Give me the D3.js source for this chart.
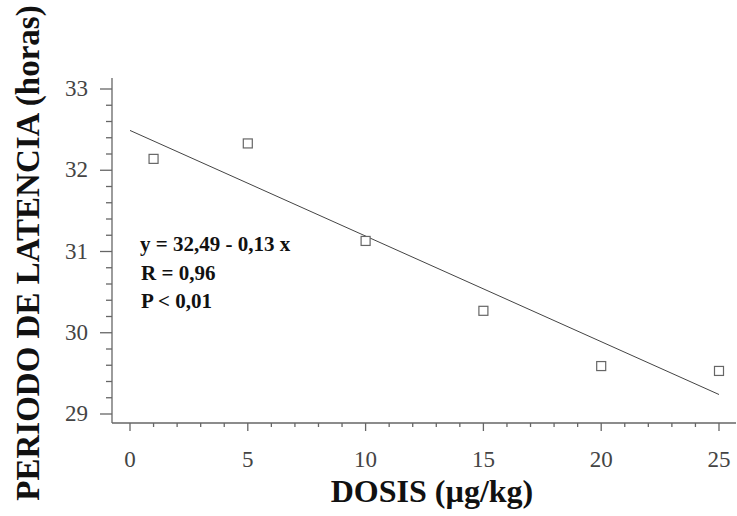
<!DOCTYPE html>
<html>
<head>
<meta charset="utf-8">
<script src="https://cdn.jsdelivr.net/npm/d3@7"></script>
<style>
body { margin: 0; background: #fff; }
svg text { font-family: "Liberation Serif", "Times New Roman", serif; }
</style>
</head>
<body>
<div id="chart"></div>
<script>
var width = 737, height = 516

// data
var dosis = [1, 5, 10, 15, 20, 25]
var latencia = [32.14, 32.33, 31.13, 30.27, 29.59, 29.53]
var intercept = 32.49, slope = -0.13
var xTicks = [0, 5, 10, 15, 20, 25]
var yTicks = [29, 30, 31, 32, 33]
var statLines = ['y = 32,49 - 0,13 x', 'R = 0,96', 'P < 0,01']

var x = d3.scaleLinear().domain([0, 25]).range([130, 719])
var y = d3.scaleLinear().domain([29, 33]).range([414, 89])

var svg = d3.select('#chart').append('svg')
	.attr('width', width).attr('height', height)

var axisColor = '#666'

// y axis
var gy = svg.append('g').attr('transform', 'translate(112,0)')
gy.append('line').attr('x1', 0).attr('x2', 0).attr('y1', 78).attr('y2', 423)
	.style('stroke', axisColor).style('stroke-width', 1.3)
d3.range(29, 33.01, 0.2).forEach(function (v) {
	var major = Math.abs(v - Math.round(v)) < 1e-6
	gy.append('line').attr('x1', major ? -12 : -6).attr('x2', 0)
		.attr('y1', y(v)).attr('y2', y(v))
		.style('stroke', axisColor).style('stroke-width', 1.3)
})
yTicks.forEach(function (v) {
	gy.append('text').text(v).attr('x', -24).attr('y', y(v) + 7)
		.attr('text-anchor', 'end').style('font-size', '23px').style('fill', '#444')
})

// x axis
var gx = svg.append('g').attr('transform', 'translate(0,423)')
gx.append('line').attr('x1', 112).attr('x2', 736).attr('y1', 0).attr('y2', 0)
	.style('stroke', axisColor).style('stroke-width', 1.3)
d3.range(0, 26).forEach(function (v) {
	var major = v % 5 === 0
	gx.append('line').attr('x1', x(v)).attr('x2', x(v)).attr('y1', 0).attr('y2', major ? 8 : 4)
		.style('stroke', axisColor).style('stroke-width', 1.3)
})
xTicks.forEach(function (v) {
	gx.append('text').text(v).attr('x', x(v)).attr('y', 44)
		.attr('text-anchor', 'middle').style('font-size', '23px').style('fill', '#444')
})

// regression line
svg.append('line')
	.attr('x1', x(0)).attr('y1', y(intercept))
	.attr('x2', x(25)).attr('y2', y(intercept + slope * 25))
	.style('stroke', '#444').style('stroke-width', 1)

// points
svg.append('g').selectAll('rect').data(dosis).join('rect')
	.attr('x', function (d) { return x(d) - 4.5 })
	.attr('y', function (d, i) { return y(latencia[i]) - 4.5 })
	.attr('width', 9).attr('height', 9)
	.style('fill', '#fff').style('stroke', '#666').style('stroke-width', 1.2)

// stats text
statLines.forEach(function (t, i) {
	svg.append('text').text(t).attr('x', i === 0 ? 140 : 141).attr('y', 251 + i * 28.5)
		.style('font-size', '21px').style('font-weight', 'bold').style('fill', '#111')
})

// axis titles
svg.append('text').text('DOSIS (µg/kg)')
	.attr('x', 432).attr('y', 502).attr('text-anchor', 'middle')
	.style('font-size', '32px').style('font-weight', 'bold').style('fill', '#111')
svg.append('text').text('PERIODO DE LATENCIA (horas)')
	.attr('transform', 'translate(39,253) rotate(-90)').attr('text-anchor', 'middle')
	.style('font-size', '33px').style('font-weight', 'bold').style('fill', '#111')
</script>
</body>
</html>
